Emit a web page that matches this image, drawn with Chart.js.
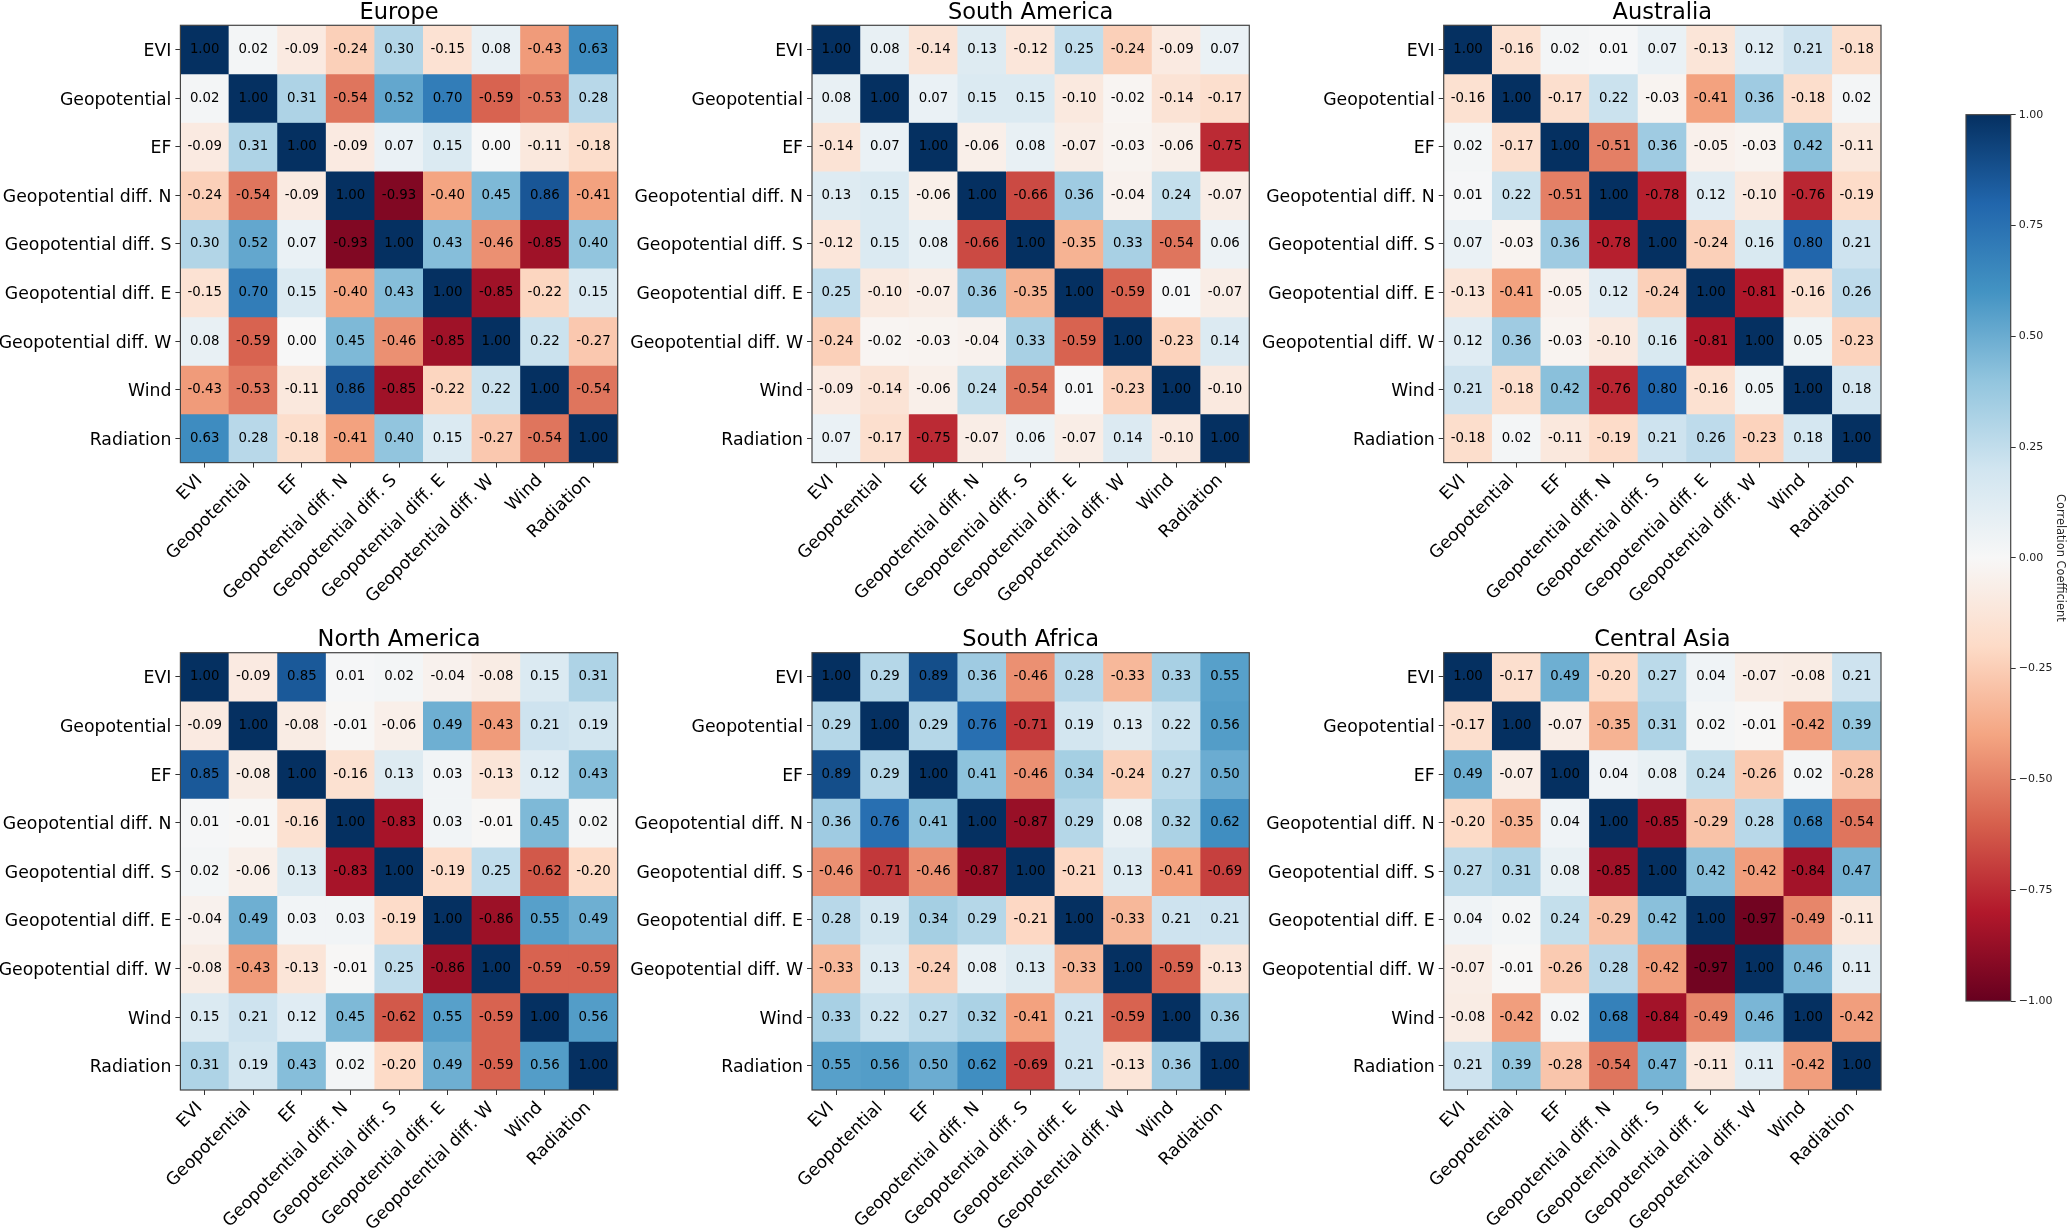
<!DOCTYPE html>
<html>
<head>
<meta charset="utf-8">
<script src="https://cdn.jsdelivr.net/npm/chart.js@4"></script>
<style>
html, body { margin: 0; padding: 0; background: #fff; overflow: hidden; }
canvas { position: absolute; }
</style>
</head>
<body>
<script>
const variables = ['EVI', 'Geopotential', 'EF', 'Geopotential diff. N', 'Geopotential diff. S',
    'Geopotential diff. E', 'Geopotential diff. W', 'Wind', 'Radiation'];

const europe = [
    [1.00, 0.02, -0.09, -0.24, 0.30, -0.15, 0.08, -0.43, 0.63],
    [0.02, 1.00, 0.31, -0.54, 0.52, 0.70, -0.59, -0.53, 0.28],
    [-0.09, 0.31, 1.00, -0.09, 0.07, 0.15, 0.00, -0.11, -0.18],
    [-0.24, -0.54, -0.09, 1.00, -0.93, -0.40, 0.45, 0.86, -0.41],
    [0.30, 0.52, 0.07, -0.93, 1.00, 0.43, -0.46, -0.85, 0.40],
    [-0.15, 0.70, 0.15, -0.40, 0.43, 1.00, -0.85, -0.22, 0.15],
    [0.08, -0.59, 0.00, 0.45, -0.46, -0.85, 1.00, 0.22, -0.27],
    [-0.43, -0.53, -0.11, 0.86, -0.85, -0.22, 0.22, 1.00, -0.54],
    [0.63, 0.28, -0.18, -0.41, 0.40, 0.15, -0.27, -0.54, 1.00]
];
const southAmerica = [
    [1.00, 0.08, -0.14, 0.13, -0.12, 0.25, -0.24, -0.09, 0.07],
    [0.08, 1.00, 0.07, 0.15, 0.15, -0.10, -0.02, -0.14, -0.17],
    [-0.14, 0.07, 1.00, -0.06, 0.08, -0.07, -0.03, -0.06, -0.75],
    [0.13, 0.15, -0.06, 1.00, -0.66, 0.36, -0.04, 0.24, -0.07],
    [-0.12, 0.15, 0.08, -0.66, 1.00, -0.35, 0.33, -0.54, 0.06],
    [0.25, -0.10, -0.07, 0.36, -0.35, 1.00, -0.59, 0.01, -0.07],
    [-0.24, -0.02, -0.03, -0.04, 0.33, -0.59, 1.00, -0.23, 0.14],
    [-0.09, -0.14, -0.06, 0.24, -0.54, 0.01, -0.23, 1.00, -0.10],
    [0.07, -0.17, -0.75, -0.07, 0.06, -0.07, 0.14, -0.10, 1.00]
];
const australia = [
    [1.00, -0.16, 0.02, 0.01, 0.07, -0.13, 0.12, 0.21, -0.18],
    [-0.16, 1.00, -0.17, 0.22, -0.03, -0.41, 0.36, -0.18, 0.02],
    [0.02, -0.17, 1.00, -0.51, 0.36, -0.05, -0.03, 0.42, -0.11],
    [0.01, 0.22, -0.51, 1.00, -0.78, 0.12, -0.10, -0.76, -0.19],
    [0.07, -0.03, 0.36, -0.78, 1.00, -0.24, 0.16, 0.80, 0.21],
    [-0.13, -0.41, -0.05, 0.12, -0.24, 1.00, -0.81, -0.16, 0.26],
    [0.12, 0.36, -0.03, -0.10, 0.16, -0.81, 1.00, 0.05, -0.23],
    [0.21, -0.18, 0.42, -0.76, 0.80, -0.16, 0.05, 1.00, 0.18],
    [-0.18, 0.02, -0.11, -0.19, 0.21, 0.26, -0.23, 0.18, 1.00]
];
const northAmerica = [
    [1.00, -0.09, 0.85, 0.01, 0.02, -0.04, -0.08, 0.15, 0.31],
    [-0.09, 1.00, -0.08, -0.01, -0.06, 0.49, -0.43, 0.21, 0.19],
    [0.85, -0.08, 1.00, -0.16, 0.13, 0.03, -0.13, 0.12, 0.43],
    [0.01, -0.01, -0.16, 1.00, -0.83, 0.03, -0.01, 0.45, 0.02],
    [0.02, -0.06, 0.13, -0.83, 1.00, -0.19, 0.25, -0.62, -0.20],
    [-0.04, 0.49, 0.03, 0.03, -0.19, 1.00, -0.86, 0.55, 0.49],
    [-0.08, -0.43, -0.13, -0.01, 0.25, -0.86, 1.00, -0.59, -0.59],
    [0.15, 0.21, 0.12, 0.45, -0.62, 0.55, -0.59, 1.00, 0.56],
    [0.31, 0.19, 0.43, 0.02, -0.20, 0.49, -0.59, 0.56, 1.00]
];
const southAfrica = [
    [1.00, 0.29, 0.89, 0.36, -0.46, 0.28, -0.33, 0.33, 0.55],
    [0.29, 1.00, 0.29, 0.76, -0.71, 0.19, 0.13, 0.22, 0.56],
    [0.89, 0.29, 1.00, 0.41, -0.46, 0.34, -0.24, 0.27, 0.50],
    [0.36, 0.76, 0.41, 1.00, -0.87, 0.29, 0.08, 0.32, 0.62],
    [-0.46, -0.71, -0.46, -0.87, 1.00, -0.21, 0.13, -0.41, -0.69],
    [0.28, 0.19, 0.34, 0.29, -0.21, 1.00, -0.33, 0.21, 0.21],
    [-0.33, 0.13, -0.24, 0.08, 0.13, -0.33, 1.00, -0.59, -0.13],
    [0.33, 0.22, 0.27, 0.32, -0.41, 0.21, -0.59, 1.00, 0.36],
    [0.55, 0.56, 0.50, 0.62, -0.69, 0.21, -0.13, 0.36, 1.00]
];
const centralAsia = [
    [1.00, -0.17, 0.49, -0.20, 0.27, 0.04, -0.07, -0.08, 0.21],
    [-0.17, 1.00, -0.07, -0.35, 0.31, 0.02, -0.01, -0.42, 0.39],
    [0.49, -0.07, 1.00, 0.04, 0.08, 0.24, -0.26, 0.02, -0.28],
    [-0.20, -0.35, 0.04, 1.00, -0.85, -0.29, 0.28, 0.68, -0.54],
    [0.27, 0.31, 0.08, -0.85, 1.00, 0.42, -0.42, -0.84, 0.47],
    [0.04, 0.02, 0.24, -0.29, 0.42, 1.00, -0.97, -0.49, -0.11],
    [-0.07, -0.01, -0.26, 0.28, -0.42, -0.97, 1.00, 0.46, 0.11],
    [-0.08, -0.42, 0.02, 0.68, -0.84, -0.49, 0.46, 1.00, -0.42],
    [0.21, 0.39, -0.28, -0.54, 0.47, -0.11, 0.11, -0.42, 1.00]
];

// same colours as matplotlib RdBu, from -1 up to 1
const rdBu = ['#67001f', '#b2182b', '#d6604d', '#f4a582', '#fddbc7', '#f7f7f7',
    '#d1e5f0', '#92c5de', '#4393c3', '#2166ac', '#053061'];

const panels = [
    { title: 'Europe', values: europe, canvasLeft: 0, canvasTop: 0, plotLeft: 180.4, plotTop: 25.3 },
    { title: 'South America', values: southAmerica, canvasLeft: 630, canvasTop: 0, plotLeft: 182, plotTop: 25.3 },
    { title: 'Australia', values: australia, canvasLeft: 1260, canvasTop: 0, plotLeft: 183.7, plotTop: 25.3 },
    { title: 'North America', values: northAmerica, canvasLeft: 0, canvasTop: 627, plotLeft: 180.4, plotTop: 25.7 },
    { title: 'South Africa', values: southAfrica, canvasLeft: 630, canvasTop: 627, plotLeft: 182, plotTop: 25.7 },
    { title: 'Central Asia', values: centralAsia, canvasLeft: 1260, canvasTop: 627, plotLeft: 183.7, plotTop: 25.7 }
];

const PLOT_SIZE = 437.3;
const PANEL_W = 632;
const PANEL_H = 602;

Chart.defaults.font.family = "'DejaVu Sans'";
Chart.defaults.color = '#000';
Chart.defaults.animation = false;
Chart.defaults.responsive = false;

function hexToRgb(h) {
    return [1, 3, 5].map(i => parseInt(h.slice(i, i + 2), 16));
}

function colorFor(v) {
    const pos = (v + 1) / 2 * (rdBu.length - 1);
    const i = Math.min(Math.floor(pos), rdBu.length - 2);
    const t = pos - i;
    const a = hexToRgb(rdBu[i]);
    const b = hexToRgb(rdBu[i + 1]);
    const c = a.map((x, k) => Math.round(x + (b[k] - x) * t));
    return `rgb(${c[0]},${c[1]},${c[2]})`;
}

function addCanvas(left, top, w, h) {
    const c = document.createElement('canvas');
    c.width = w;
    c.height = h;
    c.style.left = left + 'px';
    c.style.top = top + 'px';
    document.body.appendChild(c);
    return c;
}

// outline around the plot, like the matplotlib spines
const frame = {
    id: 'frame',
    afterDatasetsDraw(chart) {
        const { ctx, chartArea: a } = chart;
        ctx.save();
        ctx.strokeStyle = '#444';
        ctx.lineWidth = 1.2;
        ctx.strokeRect(a.left, a.top, a.right - a.left, a.bottom - a.top);
        ctx.restore();
    }
};

// number printed in every cell
const cellText = {
    id: 'cellText',
    afterDatasetsDraw(chart) {
        const { ctx } = chart;
        ctx.save();
        ctx.font = "13.3px 'DejaVu Sans'";
        ctx.fillStyle = '#000';
        ctx.textAlign = 'center';
        ctx.textBaseline = 'middle';
        chart.data.datasets.forEach((ds, i) => {
            chart.getDatasetMeta(i).data.forEach((bar, j) => {
                ctx.fillText(ds.data[j].v.toFixed(2), bar.x, (bar.y + bar.base) / 2);
            });
        });
        ctx.restore();
    }
};

function drawPanel(p) {
    const canvas = addCanvas(p.canvasLeft, p.canvasTop, PANEL_W, PANEL_H);
    new Chart(canvas, {
        type: 'bar',
        data: {
            labels: variables,
            datasets: p.values.map((row, r) => ({
                label: variables[r],
                yAxisID: 'cells',
                data: row.map((v, c) => ({ x: variables[c], y: [r, r + 1], v: v })),
                backgroundColor: row.map(colorFor),
                borderWidth: 0,
                barPercentage: 1,
                categoryPercentage: 1,
                grouped: false
            }))
        },
        options: {
            layout: { padding: { right: PANEL_W - p.plotLeft - PLOT_SIZE } },
            plugins: {
                legend: { display: false },
                tooltip: { enabled: false },
                title: {
                    display: true,
                    text: p.title,
                    fullSize: false,
                    color: '#000',
                    font: { size: 22.5, weight: 'normal', lineHeight: 1 },
                    padding: { top: p.plotTop - 22.5 - 1, bottom: 1 }
                }
            },
            scales: {
                x: {
                    type: 'category',
                    offset: true,
                    grid: { offset: false, drawOnChartArea: false, tickLength: 5, tickColor: '#333' },
                    border: { display: false },
                    ticks: { autoSkip: false, minRotation: 45, maxRotation: 45, padding: 3, labelOffset: -5, font: { size: 17.3 }, color: '#000' },
                    afterFit(scale) { scale.height = PANEL_H - p.plotTop - PLOT_SIZE; }
                },
                y: {
                    type: 'category',
                    labels: variables,
                    offset: true,
                    position: 'left',
                    grid: { offset: false, drawOnChartArea: false, tickLength: 5, tickColor: '#333' },
                    border: { display: false },
                    ticks: { autoSkip: false, padding: 4, labelOffset: 2, font: { size: 17.3 }, color: '#000' },
                    afterFit(scale) { scale.width = p.plotLeft; }
                },
                cells: { type: 'linear', display: false, min: 0, max: variables.length, reverse: true }
            }
        },
        plugins: [frame, cellText]
    });
}

panels.forEach(drawPanel);

// colour bar
const colorbarTicks = [-1, -0.75, -0.5, -0.25, 0, 0.25, 0.5, 0.75, 1];
const colorbarRange = [-1, 1];

const barCanvas = addCanvas(1900, 100, 167, 915);
new Chart(barCanvas, {
    type: 'bar',
    data: {
        labels: [''],
        datasets: [{
            data: [colorbarRange],
            barPercentage: 1,
            categoryPercentage: 1,
            borderWidth: 0,
            backgroundColor(context) {
                const chart = context.chart;
                if (!chart.chartArea) return rdBu[5];
                const y = chart.scales.y;
                const g = chart.ctx.createLinearGradient(0, y.getPixelForValue(-1), 0, y.getPixelForValue(1));
                rdBu.forEach((c, i) => g.addColorStop(i / (rdBu.length - 1), c));
                return g;
            }
        }]
    },
    options: {
        layout: { padding: { left: 66, top: 14.7, bottom: 14 } },
        plugins: { legend: { display: false }, tooltip: { enabled: false } },
        scales: {
            x: { display: false },
            y: {
                position: 'right',
                min: -1,
                max: 1,
                grid: { drawOnChartArea: false, tickLength: 5, tickColor: '#333' },
                border: { display: false },
                afterBuildTicks(scale) { scale.ticks = colorbarTicks.map(v => ({ value: v })); },
                ticks: {
                    padding: 3,
                    font: { size: 11 },
                    color: '#222',
                    callback: v => (v < 0 ? '\u2212' : '') + Math.abs(v).toFixed(2)
                },
                title: { display: true, text: 'Correlation Coefficient', font: { size: 11.4 }, color: '#222', padding: 0 },
                afterFit(scale) { scale.width = 56.3; }
            }
        }
    },
    plugins: [frame]
});
</script>
</body>
</html>
